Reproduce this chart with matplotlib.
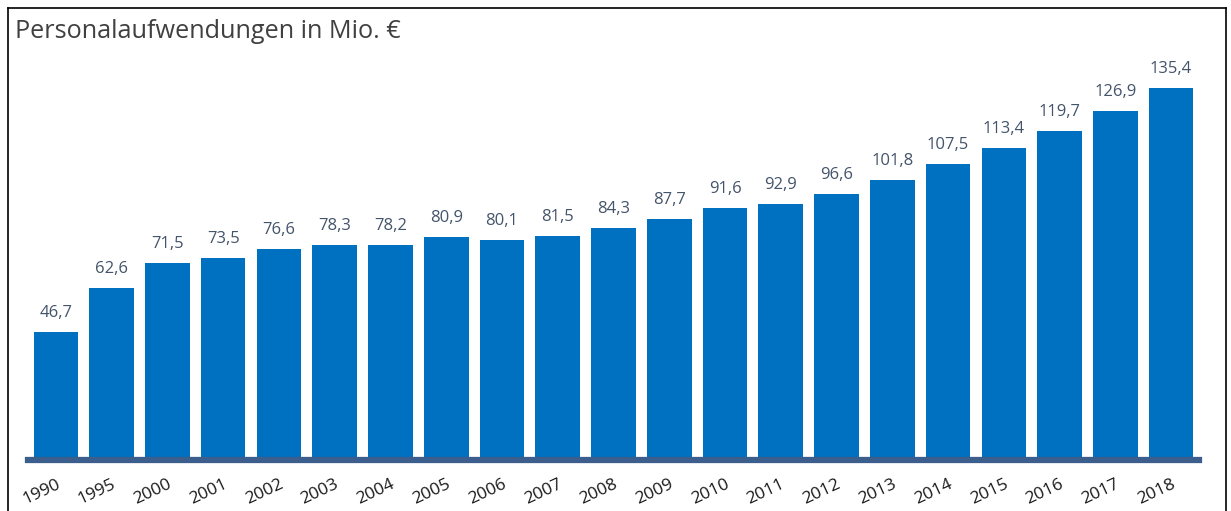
import matplotlib
matplotlib.use("Agg")
import matplotlib.pyplot as plt
from matplotlib.lines import Line2D

years = ["1990", "1995", "2000", "2001", "2002", "2003", "2004", "2005", "2006", "2007",
         "2008", "2009", "2010", "2011", "2012", "2013", "2014", "2015", "2016", "2017", "2018"]
values = [46.7, 62.6, 71.5, 73.5, 76.6, 78.3, 78.2, 80.9, 80.1, 81.5,
          84.3, 87.7, 91.6, 92.9, 96.6, 101.8, 107.5, 113.4, 119.7, 126.9, 135.4]
title = "Personalaufwendungen in Mio. €"

plt.rcParams['font.family'] = ['Open Sans', 'DejaVu Sans']

W, H = 1231, 511
fig = plt.figure(figsize=(W / 100, H / 100), dpi=100)
ax = fig.add_axes([28 / W, 51 / H, 1171 / W, 420 / H])

x = list(range(len(years)))
ax.bar(x, values, width=0.8, color="#0070c0", zorder=2)
for xi, v in zip(x, values):
    ax.text(xi, v + 4, f"{v:.1f}".replace(".", ","), ha="center", va="bottom",
            fontsize=12, color="#44546a")

ax.set_xlim(-0.5, len(years) - 0.5)
ax.set_ylim(0, 152.7)
ax.axhline(0, color="#3b5e8c", linewidth=4.5, zorder=3, clip_on=False)
for s in ax.spines.values():
    s.set_visible(False)
ax.set_yticks([])
ax.set_xticks(x)
ax.set_xticklabels(years, rotation=25, fontsize=12.5, color="#1a1a1a",
                   ha="right", va="top", rotation_mode="anchor")
ax.tick_params(axis="x", length=0, pad=12)

fig.text(15 / W, 1 - 31 / H, title, fontsize=18.2, color="#404040", va="center", ha="left")

# frame
fig.add_artist(Line2D([7.5 / W, 7.5 / W], [0, 1 - 8 / H], color="black", lw=1.2, transform=fig.transFigure))
fig.add_artist(Line2D([7.5 / W, 1226 / W], [1 - 8 / H, 1 - 8 / H], color="black", lw=1.2, transform=fig.transFigure))
fig.add_artist(Line2D([1226 / W, 1226 / W], [0, 1 - 8 / H], color="black", lw=1.2, transform=fig.transFigure))

fig.savefig("out.png", dpi=100)
